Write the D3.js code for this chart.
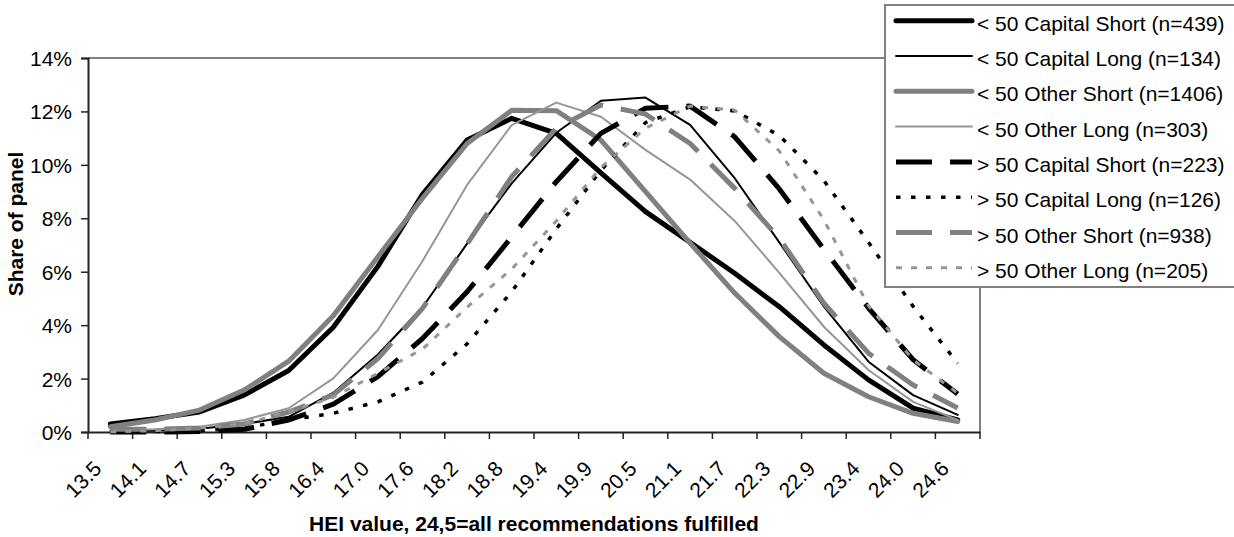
<!DOCTYPE html>
<html>
<head>
<meta charset="utf-8">
<script src="https://cdn.jsdelivr.net/npm/d3@7/dist/d3.min.js"></script>
<style>
  html, body { margin: 0; padding: 0; background: #fff; }
  svg { display: block; }
  text { font-family: "Liberation Sans", Arial, sans-serif; fill: #000; }
</style>
</head>
<body>
<svg id="chart" width="1234" height="537"></svg>
<script>
// ---- data ----
const categories = ["13.5","14.1","14.7","15.3","15.8","16.4","17.0","17.6","18.2","18.8",
                    "19.4","19.9","20.5","21.1","21.7","22.3","22.9","23.4","24.0","24.6"];
const yTicks = [0, 2, 4, 6, 8, 10, 12, 14];
const seriesNames = [
  "< 50 Capital Short (n=439)",
  "< 50 Capital Long (n=134)",
  "< 50 Other Short (n=1406)",
  "< 50 Other Long (n=303)",
  "> 50 Capital Short (n=223)",
  "> 50 Capital Long (n=126)",
  "> 50 Other Short (n=938)",
  "> 50 Other Long (n=205)"
];
const capitalShortUnder = [0.3, 0.5, 0.75, 1.38, 2.3, 3.92, 6.2, 8.9, 10.93, 11.74, 11.18, 9.7, 8.25, 7.1, 5.94, 4.69, 3.26, 1.95, 0.89, 0.45];
const capitalLongUnder  = [0.05, 0.05, 0.12, 0.3, 0.57, 1.47, 2.9, 4.67, 7.05, 9.31, 11.2, 12.4, 12.52, 11.5, 9.5, 7.1, 4.69, 2.63, 1.38, 0.64];
const otherShortUnder   = [0.2, 0.45, 0.82, 1.57, 2.65, 4.35, 6.56, 8.75, 10.8, 12.04, 12.03, 10.93, 9.0, 7.07, 5.2, 3.57, 2.2, 1.32, 0.7, 0.39];
const otherLongUnder    = [0.05, 0.1, 0.2, 0.45, 0.89, 2.01, 3.82, 6.4, 9.25, 11.49, 12.33, 11.8, 10.56, 9.45, 7.9, 5.96, 3.94, 2.32, 1.13, 0.45];
const capitalShortOver  = [0.0, 0.0, 0.02, 0.1, 0.45, 1.04, 2.07, 3.5, 5.25, 7.3, 9.37, 11.18, 12.12, 12.2, 11.05, 9.1, 6.84, 4.64, 2.71, 1.42];
const capitalLongOver   = [0.0, 0.02, 0.05, 0.15, 0.45, 0.7, 1.13, 1.87, 3.3, 5.25, 7.6, 9.8, 11.58, 12.17, 12.02, 11.1, 9.41, 7.1, 4.7, 2.57];
const otherShortOver    = [0.1, 0.1, 0.15, 0.3, 0.75, 1.39, 2.75, 4.63, 7.04, 9.56, 11.37, 12.24, 11.9, 10.8, 9.12, 7.25, 4.82, 2.95, 1.76, 0.9];
const otherLongOver     = [0.0, 0.05, 0.15, 0.3, 0.76, 1.3, 2.2, 3.1, 4.67, 6.1, 7.9, 9.9, 11.37, 12.2, 12.05, 10.52, 7.94, 4.72, 2.7, 1.45];
const xTitle = "HEI value, 24,5=all recommendations fulfilled";
const yTitle = "Share of panel";

// ---- styles (separate from data) ----
const seriesValues = [capitalShortUnder, capitalLongUnder, otherShortUnder, otherLongUnder,
                      capitalShortOver, capitalLongOver, otherShortOver, otherLongOver];
const styles = [
  {color: "#000000", width: 5,   dash: null,       cap: "round"},
  {color: "#000000", width: 2,   dash: null,       cap: "round"},
  {color: "#808080", width: 5,   dash: null,       cap: "round"},
  {color: "#969696", width: 2,   dash: null,       cap: "round"},
  {color: "#000000", width: 5,   dash: "36,18",    cap: "butt"},
  {color: "#000000", width: 3.5, dash: "4.5,10.5", cap: "butt"},
  {color: "#808080", width: 5,   dash: "36,18",    cap: "butt"},
  {color: "#969696", width: 3,   dash: "6,9",      cap: "butt"}
];

// ---- layout ----
const plot = {left: 88, right: 980, top: 58, bottom: 432};
const svg = d3.select("#chart");

const x = d3.scaleBand().domain(categories).range([plot.left, plot.right]).padding(0);
const y = d3.scaleLinear().domain([0, 14]).range([plot.bottom, plot.top]);

// plot border (top + right, gray)
svg.append("path")
  .attr("d", `M${plot.left},${plot.top}H${plot.right}V${plot.bottom}`)
  .attr("fill", "none").attr("stroke", "#808080").attr("stroke-width", 2);

// y axis
const yAxis = d3.axisLeft(y).tickValues(yTicks).tickSize(7).tickPadding(9)
  .tickFormat(d => d + "%");
const gy = svg.append("g").attr("transform", `translate(${plot.left},0)`).call(yAxis);
gy.select(".domain").attr("stroke", "#222").attr("stroke-width", 2);
gy.selectAll(".tick line").attr("stroke", "#222").attr("stroke-width", 1.5);
gy.selectAll(".tick text")
  .attr("font-size", 21).attr("font-family", '"Liberation Sans", Arial, sans-serif')
  .attr("fill", "#000").attr("dy", "0.36em");

// x axis: ticks between categories
const xAxis = d3.axisBottom(x).tickSize(0).tickFormat("");
const gx = svg.append("g").attr("transform", `translate(0,${plot.bottom})`).call(xAxis);
gx.select(".domain").attr("stroke", "#222").attr("stroke-width", 2);
gx.selectAll(".tick").remove();
const boundaries = categories.map(c => x(c)).concat([x(categories[categories.length - 1]) + x.bandwidth()]);
gx.selectAll("line.sep").data(boundaries).enter().append("line")
  .attr("class", "sep")
  .attr("x1", d => d).attr("x2", d => d)
  .attr("y1", 0).attr("y2", 7)
  .attr("stroke", "#222").attr("stroke-width", 1.5);

// x tick labels, rotated
svg.append("g").selectAll("text").data(categories).enter().append("text")
  .attr("transform", d => `translate(${x(d) + x.bandwidth() / 2 - 7.5},470) rotate(-45)`)
  .attr("text-anchor", "end")
  .attr("font-size", 21)
  .text(d => d);

// axis titles
svg.append("text")
  .attr("x", 534).attr("y", 531)
  .attr("text-anchor", "middle").attr("font-size", 21).attr("font-weight", "bold")
  .text(xTitle);
svg.append("text")
  .attr("transform", "translate(23,224) rotate(-90)")
  .attr("text-anchor", "middle").attr("font-size", 21).attr("font-weight", "bold")
  .text(yTitle);

// lines
const line = d3.line()
  .x((d, i) => x(categories[i]) + x.bandwidth() / 2)
  .y(d => y(d));

const gLines = svg.append("g");
seriesValues.forEach((vals, k) => {
  const s = styles[k];
  gLines.append("path")
    .datum(vals)
    .attr("d", line)
    .attr("fill", "none")
    .attr("stroke", s.color)
    .attr("stroke-width", s.width)
    .attr("stroke-linejoin", "round")
    .attr("stroke-linecap", s.cap)
    .attr("stroke-dasharray", s.dash);
});

// legend
const legend = svg.append("g");
legend.append("rect")
  .attr("x", 885).attr("y", 5).attr("width", 400).attr("height", 282)
  .attr("fill", "#fff").attr("stroke", "#808080").attr("stroke-width", 2);
const rowY = d3.scaleLinear().domain([0, 7]).range([20.7, 267.8]);
seriesNames.forEach((name, k) => {
  const s = styles[k];
  const yy = rowY(k);
  legend.append("line")
    .attr("x1", 896).attr("x2", 972).attr("y1", yy).attr("y2", yy)
    .attr("stroke", s.color).attr("stroke-width", s.width)
    .attr("stroke-linecap", s.cap)
    .attr("stroke-dasharray", s.dash);
  legend.append("text")
    .attr("x", 977).attr("y", yy + 10)
    .attr("font-size", 21)
    .text(name);
});
</script>
</body>
</html>
